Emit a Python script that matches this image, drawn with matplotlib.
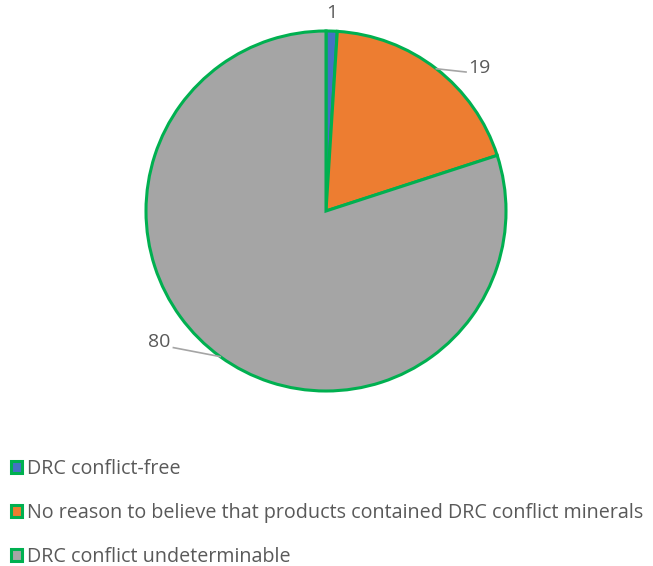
import numpy as np
import matplotlib.pyplot as plt

plt.rcParams['font.family'] = ['Open Sans', 'DejaVu Sans']

labels = ["DRC conflict-free",
          "No reason to believe that products contained DRC conflict minerals",
          "DRC conflict undeterminable"]
values = [1, 19, 80]
colors = ["#4472C4", "#ED7D31", "#A5A5A5"]
edge = "#00B050"
text_color = "#595959"

W, H = 653, 566
cx, cy, r = 326, 211, 180

fig = plt.figure(figsize=(W / 100, H / 100), dpi=100)
ax = fig.add_axes([0, 0, 1, 1])

wedges, _ = ax.pie(values, colors=colors, startangle=90, counterclock=False,
                   radius=1, wedgeprops=dict(edgecolor=edge, linewidth=2.2))
ax.set_xlim((0 - cx) / r, (W - cx) / r)
ax.set_ylim((cy - H) / r, cy / r)
ax.set_aspect('equal')
ax.axis('off')

# data labels with leader lines
start = 90.0
total = sum(values)
for v, w in zip(values, wedges):
    sweep = 360.0 * v / total
    mid = np.deg2rad(start - sweep / 2)
    start -= sweep
    ex, ey = np.cos(mid), np.sin(mid)
    if v == 1:
        ax.text(ex * 1.1, ey * 1.1, str(v), ha='center', va='center',
                fontsize=14, color=text_color)
    elif ex > 0:
        lx, ly = ex + 0.165, ey - 0.018
        ax.plot([ex, lx], [ey, ly], color="#A5A5A5", lw=1.2)
        ax.text(lx + 0.01, ly + 0.02, str(v), ha='left', va='center',
                fontsize=14, color=text_color)
    else:
        lx, ly = ex - 0.26, ey + 0.05
        ax.plot([ex, lx], [ey, ly], color="#A5A5A5", lw=1.2)
        ax.text(lx - 0.015, ly + 0.03, str(v), ha='right', va='center',
                fontsize=14, color=text_color)

leg = fig.legend(wedges, labels, loc='upper left', bbox_to_anchor=(0.004, 0.203),
                 frameon=False, fontsize=14.2, labelcolor=text_color,
                 handlelength=0.6, handleheight=0.6, handletextpad=0.25,
                 labelspacing=1.22, borderaxespad=0)

fig.savefig("out.png", dpi=100)
